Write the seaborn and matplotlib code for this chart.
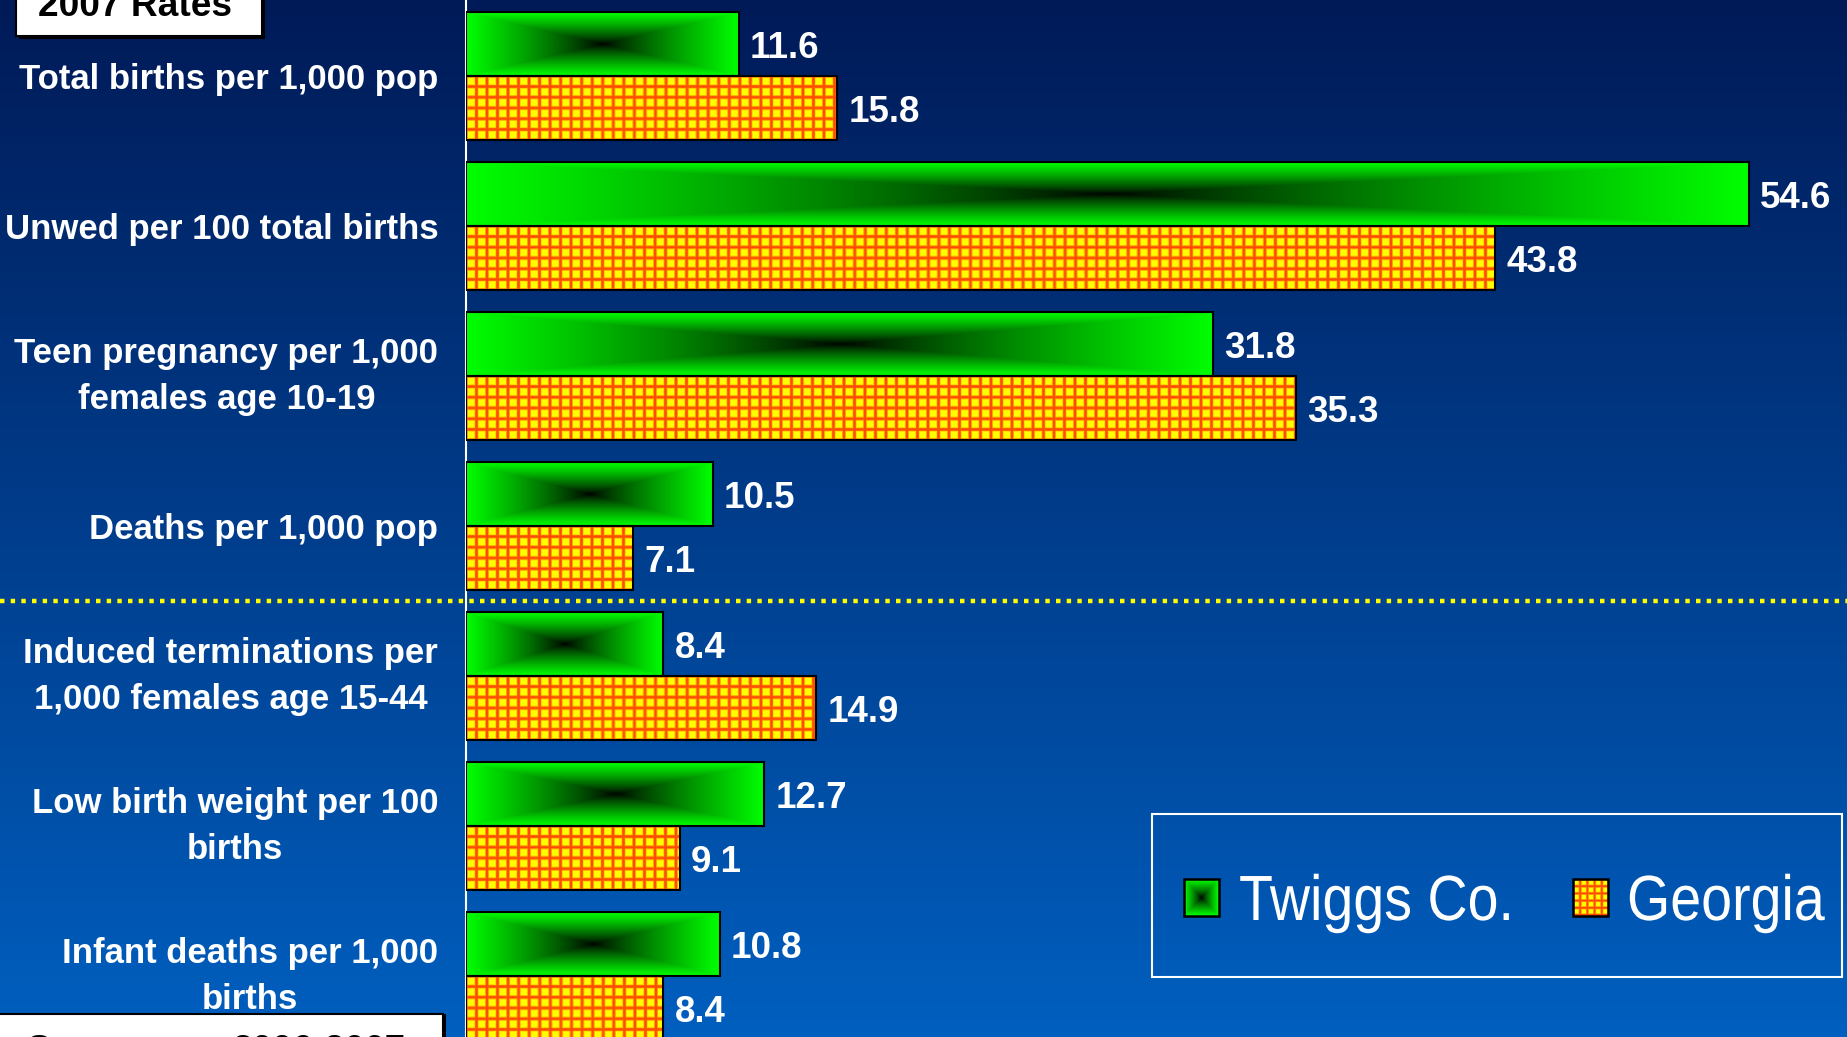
import numpy as np
import pandas as pd
import seaborn as sns
import matplotlib.pyplot as plt
from matplotlib.patches import Rectangle
from matplotlib.patheffects import AbstractPathEffect
from matplotlib.transforms import Affine2D

W, H, DPI = 1847, 1037, 100

CATEGORIES = [
    "Total births per 1,000 pop",
    "Unwed per 100 total births",
    "Teen pregnancy per 1,000\nfemales age 10-19",
    "Deaths per 1,000 pop",
    "Induced terminations per\n1,000 females age 15-44",
    "Low birth weight per 100\nbirths",
    "Infant deaths per 1,000\nbirths",
]
TWIGGS = [11.6, 54.6, 31.8, 10.5, 8.4, 12.7, 10.8]
GEORGIA = [15.8, 43.8, 35.3, 7.1, 14.9, 9.1, 8.4]
SERIES = ["Twiggs Co.", "Georgia"]

BG_TOP = np.array([0x00, 0x1a, 0x57]) / 255
BG_BOTTOM = np.array([0x00, 0x5f, 0xbf]) / 255
GREEN = np.array([0.0, 1.0, 0.0])
YELLOW = np.array([1.0, 1.0, 0.0])
RED_ORANGE = np.array([1.0, 0.3, 0.0])


def green_gradient(h, w):
    yy = np.abs(np.linspace(-1, 1, h))[:, None]
    xx = np.abs(np.linspace(-1, 1, w))[None, :]
    d = np.maximum(xx, yy) ** 0.8
    return d[..., None] * GREEN[None, None, :]


def grid_texture(h, w, period=10.5, core=0.8):
    def line(n):
        p = np.arange(n) + 0.5
        ph = (p % period) / period
        dist = np.minimum(ph, 1 - ph) * period
        return np.clip(1 - (dist - core) / 1.5, 0, 1)

    lx = line(w)[None, :]
    ly = line(h)[:, None]
    l = np.maximum(lx, ly)[..., None]
    return YELLOW * (1 - l) + RED_ORANGE * l


class Squeeze(AbstractPathEffect):
    """Narrow the glyphs horizontally around the text's left edge (condensed look)."""

    def __init__(self, sx, x_left):
        super().__init__()
        self.sx = sx
        self.x_left = x_left

    def draw_path(self, renderer, gc, tpath, affine, rgbFace=None):
        squeeze = Affine2D().translate(-self.x_left, 0).scale(self.sx, 1).translate(self.x_left, 0)
        renderer.draw_path(gc, tpath, affine + squeeze, rgbFace)


sns.set_style("white")
plt.rcParams["font.family"] = ["Liberation Sans", "DejaVu Sans"]

df = pd.DataFrame({
    "measure": CATEGORIES * 2,
    "rate": TWIGGS + GEORGIA,
    "area": [SERIES[0]] * len(CATEGORIES) + [SERIES[1]] * len(CATEGORIES),
})

fig = plt.figure(figsize=(W / DPI, H / DPI), dpi=DPI)

# background gradient
bg = fig.add_axes([0, 0, 1, 1], zorder=0)
t = np.linspace(0, 1, 256)[:, None, None]
bg.imshow(BG_TOP * (1 - t) + BG_BOTTOM * t, aspect="auto", extent=(0, 1, 0, 1))
bg.set_axis_off()

x0_px = 466
ax = fig.add_axes([x0_px / W, 0, (W - x0_px) / W, 1], zorder=1)
ax.patch.set_alpha(0)

sns.barplot(
    data=df, y="measure", x="rate", hue="area", orient="h", ax=ax,
    palette={SERIES[0]: "#00ff00", SERIES[1]: "#ffff00"}, saturation=1,
    width=0.853, edgecolor="black", linewidth=1.5, legend=False,
)

px_per_unit = 23.5
XLIM = (0, (W - x0_px) / px_per_unit)
YLIM = ((H - 76) / 150, -76 / 150)
ax.set_xlim(*XLIM)
ax.set_ylim(*YLIM)
ax.set_xlabel("")
ax.set_ylabel("")

for s in ["top", "right", "bottom"]:
    ax.spines[s].set_visible(False)
ax.spines["left"].set_color("white")
ax.spines["left"].set_linewidth(1.5)
ax.tick_params(axis="x", bottom=False, labelbottom=False)
ax.tick_params(axis="y", which="major", length=0, pad=20, labelcolor="white", labelsize=25)
ax.set_yticks(np.arange(-0.5, len(CATEGORIES) + 0.5), minor=True)
ax.tick_params(axis="y", which="minor", length=6.5, width=1.2, color="white", direction="out")
for lab in ax.get_yticklabels():
    lab.set_fontweight("bold")
    lab.set_multialignment("center")
    if "\n" in lab.get_text():
        lab.set_linespacing(1.5)
        lab.set_verticalalignment("center")

# textures on bars
for ci, container in enumerate(ax.containers):
    for patch in container:
        bx0, by0 = patch.get_x(), patch.get_y()
        bx1, by1 = bx0 + patch.get_width(), by0 + patch.get_height()
        (dx0, dy0), (dx1, dy1) = ax.transData.transform([(bx0, by0), (bx1, by1)])
        wpx = max(int(round(abs(dx1 - dx0))), 2)
        hpx = max(int(round(abs(dy1 - dy0))), 2)
        img = green_gradient(hpx, wpx) if ci == 0 else grid_texture(hpx, wpx)
        ax.imshow(img, extent=(bx0, bx1, by1, by0), origin="upper", aspect="auto",
                  interpolation="antialiased", zorder=2)
        patch.set_facecolor("none")
        patch.set_zorder(3)

ax.set_xlim(*XLIM)
ax.set_ylim(*YLIM)

for container in ax.containers:
    anns = ax.bar_label(container, fmt="%.1f", padding=8, color="white",
                        fontsize=26.5, fontweight="bold", zorder=4)
    for a in anns:
        a.xyann = (8, -3)

ax.axhline(3.5, xmin=-x0_px / (W - x0_px), xmax=1, color="#ffff00", lw=3.2,
           linestyle=(0, (1, 1.4)), clip_on=False, zorder=4)

# overlay in pixel coordinates: boxes and legend
ov = fig.add_axes([0, 0, 1, 1], zorder=5)
ov.set_xlim(0, W)
ov.set_ylim(H, 0)
ov.set_axis_off()
ov.patch.set_alpha(0)

ov.add_patch(Rectangle((19, -20), 246, 59, facecolor="black", edgecolor="none"))
ov.add_patch(Rectangle((16, -20), 246, 56, facecolor="white", edgecolor="black", lw=1.5))
ov.text(38, 16, "2007 Rates", fontsize=26.7, fontweight="bold", color="black", va="baseline")

ov.add_patch(Rectangle((-5, 1014), 451, 40, facecolor="black", edgecolor="none"))
ov.add_patch(Rectangle((-5, 1014), 448, 40, facecolor="white", edgecolor="black", lw=1.5))
ov.text(27, 1061, "Source:", fontsize=26, fontweight="bold", color="black", va="baseline")
ov.text(233, 1061, "2006-2007", fontsize=26, fontweight="bold", color="black", va="baseline")

# legend
ov.add_patch(Rectangle((1152, 814), 690, 163, fill=False, edgecolor="white", lw=1.5))
ov.imshow(green_gradient(37, 35), extent=(1184, 1219, 916, 879), origin="upper",
          aspect="auto", zorder=2)
ov.add_patch(Rectangle((1184, 879), 35, 37, fill=False, edgecolor="black", lw=1.8, zorder=3))
ov.imshow(grid_texture(37, 35, period=7.2, core=0.5), extent=(1573, 1608, 916, 879),
          origin="upper", aspect="auto", zorder=2)
ov.add_patch(Rectangle((1573, 879), 35, 37, fill=False, edgecolor="black", lw=1.8, zorder=3))

for name, x_left in [(SERIES[0], 1239), (SERIES[1], 1627)]:
    ov.text(x_left, 920, name, fontsize=46, color="white", va="baseline",
            path_effects=[Squeeze(0.87, x_left)])
ov.set_xlim(0, W)
ov.set_ylim(H, 0)

fig.savefig("out.png", dpi=DPI)
